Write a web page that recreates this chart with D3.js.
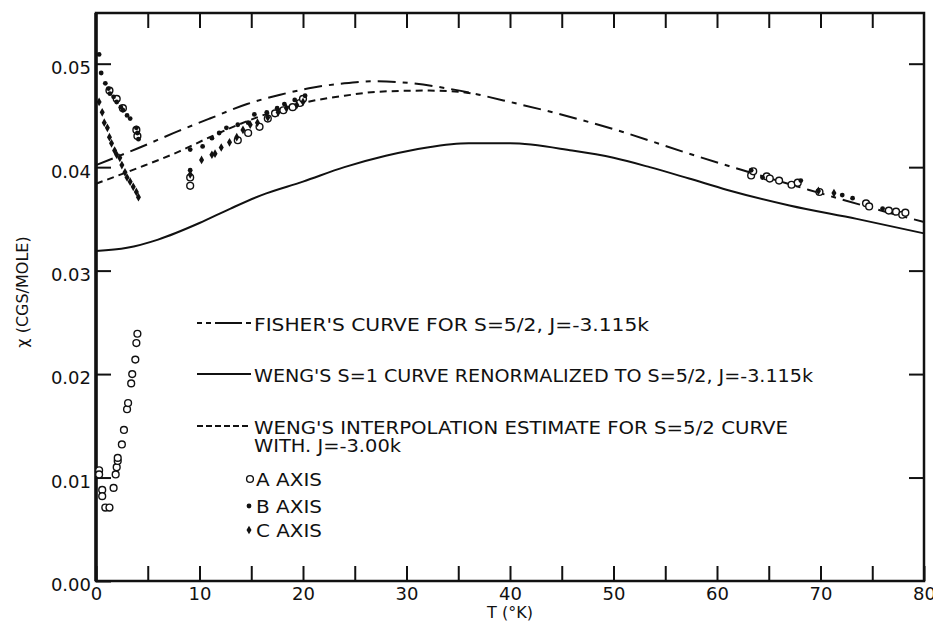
<!DOCTYPE html>
<html>
<head>
<meta charset="utf-8">
<script src="https://cdn.jsdelivr.net/npm/d3@7"></script>
<style>
  body { margin: 0; background: #fff; }
  svg { display: block; }
  text { font-family: "DejaVu Sans", "Liberation Sans", sans-serif; fill: #111; }
</style>
</head>
<body>
<div id="chart"></div>
<script>
// curves: [T (K), chi (cgs/mole)]
var fisherCurve = [[0,0.0402],[4,0.0418],[8,0.0435],[11,0.0447],[14.6,0.0461],[17.8,0.0470],[21,0.0477],[24,0.0481],[27,0.0483],[30.6,0.0481],[34,0.0476],[37,0.0470],[40,0.0463],[44.5,0.0452],[50.9,0.0434],[57.3,0.0413],[62.5,0.0397],[68.9,0.0378],[76.6,0.0356],[80,0.0347]];
var wengCurve = [[0,0.0319],[3,0.0322],[6,0.0330],[10,0.0346],[13,0.0360],[16,0.0373],[20,0.0386],[24,0.0400],[28,0.0411],[32,0.0419],[36,0.0423],[40,0.0423],[46,0.0416],[50,0.0409],[53.5,0.0400],[57.3,0.0389],[61,0.0378],[67,0.0363],[73.5,0.0350],[80,0.0336]];
var wengInterp = [[0,0.0384],[4,0.0399],[8,0.0415],[11,0.0429],[15,0.0446],[20.4,0.0463],[24,0.0469],[27.4,0.0473],[32.2,0.0474],[35,0.0473],[36.5,0.0471]];

// measured points
var aAxis = [[0.3,0.0107],[0.3,0.0103],[0.6,0.0088],[0.6,0.0082],[0.9,0.0071],[1.3,0.0071],[1.7,0.0090],[1.9,0.0103],[2.0,0.0110],[2.1,0.0116],[2.1,0.0119],[2.5,0.0132],[2.7,0.0146],[3.0,0.0166],[3.1,0.0172],[3.4,0.0191],[3.5,0.0200],[3.8,0.0214],[3.9,0.0230],[4.0,0.0239],
  [1.3,0.0474],[2.0,0.0466],[2.6,0.0457],[3.9,0.0436],[4.0,0.0430],
  [9.1,0.0390],[9.1,0.0382],[13.7,0.0426],[14.7,0.0433],[15.8,0.0439],[16.6,0.0447],[17.3,0.0452],[18.1,0.0455],[19.0,0.0458],[19.7,0.0462],[20.0,0.0466],
  [63.3,0.0392],[63.5,0.0396],[64.8,0.0391],[65.1,0.0389],[66.0,0.0387],[67.2,0.0383],[67.8,0.0385],[69.9,0.0376],[74.4,0.0365],[74.7,0.0362],[76.6,0.0358],[77.3,0.0357],[77.9,0.0354],[78.2,0.0356]];
var bAxis = [[0.3,0.0509],[0.5,0.0491],[0.9,0.0481],[1.2,0.0476],[1.35,0.0471],[1.7,0.0468],[2.0,0.0463],[2.4,0.0458],[2.6,0.0455],[3.0,0.0450],[3.3,0.0447],[3.9,0.0438],[4.0,0.0433],[4.1,0.0427],
  [9.1,0.0417],[9.1,0.0397],[10.3,0.0420],[11.2,0.0428],[11.9,0.0433],[12.6,0.0438],[13.7,0.0441],[14.7,0.0443],[15.3,0.0451],[16.5,0.0453],[17.5,0.0457],[18.2,0.0461],[19.2,0.0465],[20.2,0.0469],
  [63.3,0.0397],[64.4,0.0390],[68.1,0.0387],[72.1,0.0373],[73.1,0.0370],[76.0,0.0360]];
var cAxis = [[0.3,0.0463],[0.6,0.0453],[0.8,0.0443],[1.1,0.0438],[1.3,0.0429],[1.5,0.0423],[1.8,0.0416],[2.0,0.0412],[2.3,0.0409],[2.5,0.0402],[2.8,0.0395],[3.0,0.0390],[3.3,0.0386],[3.6,0.0381],[3.9,0.0376],[4.1,0.0371],
  [9.1,0.0393],[10.2,0.0407],[11.2,0.0412],[11.5,0.0413],[12.1,0.0419],[12.9,0.0424],[13.6,0.0429],[14.2,0.0436],[14.9,0.0441],[15.6,0.0443],[16.6,0.0448],[17.6,0.0453],[18.4,0.0457],[19.4,0.0460],[20.0,0.0463],
  [69.8,0.0377],[71.3,0.0375]];

var xTicks = d3.range(0, 81, 5);
var yTicks = [0, 0.01, 0.02, 0.03, 0.04, 0.05];

var legendLines = [
  { label: "FISHER'S CURVE FOR S=5/2, J=-3.115k", dash: "5,4,5,4,22,0", len: 395 },
  { label: "WENG'S S=1 CURVE RENORMALIZED TO S=5/2, J=-3.115k", dash: null, len: 559 },
  { label: "WENG'S INTERPOLATION ESTIMATE FOR S=5/2 CURVE", dash: "6,3", len: 534 }
];
var legendMarks = ["A AXIS", "B AXIS", "C AXIS"];

var width = 933, height = 621;
var margins = { top: 13, right: 9, bottom: 40, left: 96 };

var svg = d3.select("#chart").append("svg")
  .attr("width", width)
  .attr("height", height);

var x = d3.scaleLinear().domain([0, 80]).range([margins.left, width - margins.right]);
var y = d3.scaleLinear().domain([0, 0.0549]).range([height - margins.bottom, margins.top]);

// frame
svg.append("rect")
  .attr("x", x(0)).attr("y", y.range()[1])
  .attr("width", x(80) - x(0)).attr("height", y(0) - y.range()[1])
  .style("fill", "none").style("stroke", "#111").style("stroke-width", 2.5);
svg.append("line")
  .attr("x1", x(0)).attr("x2", x(0)).attr("y1", y.range()[1]).attr("y2", y(0))
  .style("stroke", "#111").style("stroke-width", 3.5);

var styleAxis = function(g) {
  g.select(".domain").remove();
  g.selectAll(".tick line").style("stroke", "#111").style("stroke-width", 2);
  g.selectAll("text").attr("font-family", null).attr("font-size", null).style("font-size", "18px");
};

svg.append("g")
  .attr("transform", "translate(0," + y(0) + ")")
  .call(d3.axisBottom(x).tickValues(xTicks).tickSize(-15).tickPadding(6)
    .tickFormat(d => d % 10 == 0 ? d : ""))
  .call(styleAxis);

svg.append("g")
  .attr("transform", "translate(0," + y.range()[1] + ")")
  .call(d3.axisTop(x).tickValues(xTicks.slice(1, -1)).tickSize(-15).tickFormat(""))
  .call(styleAxis);

svg.append("g")
  .attr("transform", "translate(" + x(0) + ",0)")
  .call(d3.axisLeft(y).tickValues(yTicks).tickSize(-15).tickPadding(5).tickFormat(d3.format(".2f")))
  .call(styleAxis)
  .selectAll("text").attr("dy", "0.55em");

svg.append("g")
  .attr("transform", "translate(" + x(80) + ",0)")
  .call(d3.axisRight(y).tickValues(yTicks.slice(1)).tickSize(-15).tickFormat(""))
  .call(styleAxis);

// axis titles
svg.append("text")
  .attr("x", 510).attr("y", 618)
  .attr("text-anchor", "middle")
  .style("font-size", "16px")
  .text("T (°K)");

svg.append("text")
  .attr("transform", "translate(28,292) rotate(-90)")
  .attr("text-anchor", "middle")
  .style("font-size", "16px")
  .text("χ (CGS/MOLE)");

// curves
var line = d3.line()
  .x(d => x(d[0]))
  .y(d => y(d[1]))
  .curve(d3.curveMonotoneX);

svg.append("path").datum(wengCurve)
  .attr("d", line)
  .style("fill", "none").style("stroke", "#111").style("stroke-width", 2);

svg.append("path").datum(wengInterp)
  .attr("d", line)
  .style("fill", "none").style("stroke", "#111").style("stroke-width", 2)
  .style("stroke-dasharray", "7,5");

svg.append("path").datum(fisherCurve)
  .attr("d", line)
  .style("fill", "none").style("stroke", "#111").style("stroke-width", 2)
  .style("stroke-dasharray", "18,7,5,7");

// data points
svg.append("g").selectAll("circle")
  .data(aAxis).join("circle")
  .attr("cx", d => x(d[0]))
  .attr("cy", d => y(d[1]))
  .attr("r", 3.4)
  .style("fill", "#fff").style("stroke", "#111").style("stroke-width", 1.4);

svg.append("g").selectAll("circle")
  .data(bAxis).join("circle")
  .attr("cx", d => x(d[0]))
  .attr("cy", d => y(d[1]))
  .attr("r", 2.4)
  .style("fill", "#111");

var diamond = d3.symbol(d3.symbolDiamond, 22);
svg.append("g").selectAll("path")
  .data(cAxis).join("path")
  .attr("transform", d => "translate(" + x(d[0]) + "," + y(d[1]) + ")")
  .attr("d", diamond)
  .style("fill", "#111");

// legend
var legend = svg.append("g");
var legendY = [323, 374, 426];

legend.selectAll(".legend-line")
  .data(legendLines).join("line")
  .attr("class", "legend-line")
  .attr("x1", 197).attr("x2", 251)
  .attr("y1", (d, i) => legendY[i]).attr("y2", (d, i) => legendY[i])
  .style("stroke", "#111").style("stroke-width", 1.8)
  .style("stroke-dasharray", d => d.dash);

legend.selectAll(".legend-label")
  .data(legendLines).join("text")
  .attr("class", "legend-label")
  .attr("x", 254)
  .attr("y", (d, i) => legendY[i] + 8)
  .attr("textLength", d => d.len)
  .attr("lengthAdjust", "spacingAndGlyphs")
  .style("font-size", "18px")
  .text(d => d.label);

legend.append("text")
  .attr("x", 254).attr("y", 452)
  .attr("textLength", 147)
  .attr("lengthAdjust", "spacingAndGlyphs")
  .style("font-size", "18px")
  .text("WITH. J=-3.00k");

var markY = [479, 506, 530];
legend.append("circle")
  .attr("cx", 250).attr("cy", markY[0]).attr("r", 3.4)
  .style("fill", "#fff").style("stroke", "#111").style("stroke-width", 1.4);
legend.append("circle")
  .attr("cx", 249).attr("cy", markY[1]).attr("r", 2.4)
  .style("fill", "#111");
legend.append("path")
  .attr("transform", "translate(249," + markY[2] + ")")
  .attr("d", diamond)
  .style("fill", "#111");

legend.selectAll(".legend-mark")
  .data(legendMarks).join("text")
  .attr("class", "legend-mark")
  .attr("x", 256)
  .attr("y", (d, i) => markY[i] + 7)
  .attr("textLength", 66)
  .attr("lengthAdjust", "spacingAndGlyphs")
  .style("font-size", "18px")
  .text(d => d);
</script>
</body>
</html>
